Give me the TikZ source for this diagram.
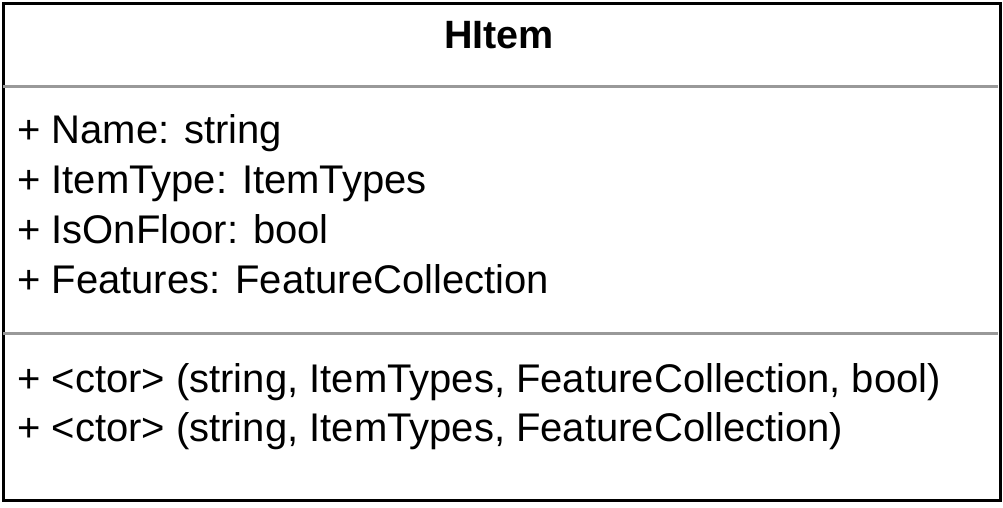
\documentclass[tikz,border=0pt]{standalone}
\usepackage{fontspec}
\setmainfont{Liberation Sans}
\begin{document}
\begin{tikzpicture}[x=1pt,y=-1pt,
  member/.style={anchor=base west,inner sep=0pt,font=\fontsize{40}{40}\selectfont},
  title/.style={anchor=base,inner sep=0pt,font=\fontsize{39.5}{40}\selectfont\bfseries},
  sep/.style={draw=black!40,line width=3pt}]
\useasboundingbox (0,0) rectangle (1003,507);
\node[draw,line width=3pt,minimum width=997.5pt,minimum height=497.5pt,anchor=north west,inner sep=0pt] (box) at (1.5,1.5) {};
\node[title] (t) at (499,48) {HItem};
\coordinate (s1l) at (3,86);
\coordinate (s1r) at (997.5,86);
\coordinate (s2l) at (3,333);
\coordinate (s2r) at (997.5,333);
\draw[sep] (s1l) -- (s1r);
\draw[sep] (s2l) -- (s2r);
\node[member] (a1) at (17,143) {+ Name: string};
\node[member] (a2) at (17,193) {+ ItemType: ItemTypes};
\node[member] (a3) at (17,243) {+ IsOnFloor: bool};
\node[member] (a4) at (17,293) {+ Features: FeatureCollection};
\node[member] (m1) at (17,392) {+ <ctor> (string, ItemTypes, FeatureCollection, bool)};
\node[member] (m2) at (17,441) {+ <ctor> (string, ItemTypes, FeatureCollection)};
\end{tikzpicture}
\end{document}
